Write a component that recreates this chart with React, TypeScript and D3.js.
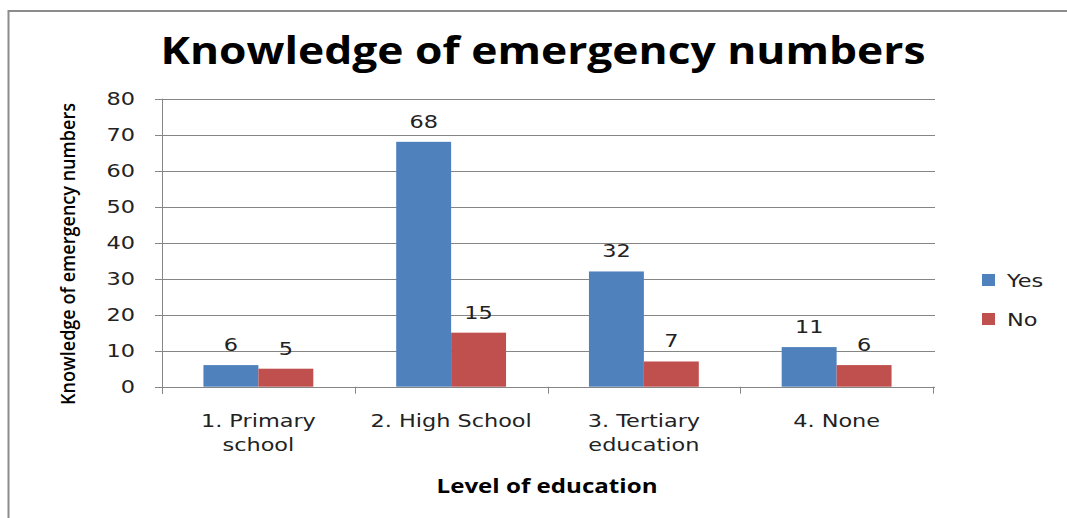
import { useEffect, useRef } from "react"
import * as d3 from "d3"

const categories = ["1. Primary school", "2. High School", "3. Tertiary education", "4. None"]
const categoryLines = [["1. Primary", "school"], ["2. High School"], ["3. Tertiary", "education"], ["4. None"]]
const seriesNames = ["Yes", "No"]
const yesValues = [6, 68, 32, 11]
const noValues = [5, 15, 7, 6]
const yTicks = [0, 10, 20, 30, 40, 50, 60, 70, 80]
const colors = ["#4F81BD", "#C0504D"]

export default function App() {
  const ref = useRef<SVGSVGElement | null>(null)

  useEffect(() => {
    if (!ref.current) return
    const svg = d3.select(ref.current)
    svg.selectAll("*").remove()

    const width = 1067
    const height = 518
    const left = 162
    const right = 933
    const top = 98.6
    const bottom = 386.7
    const font = "'DejaVu Sans', Verdana, sans-serif"
    const titleFont = "'Open Sans', Calibri, sans-serif"
    const stretch = 1.28

    // the source picture is stretched sideways, so plain labels are too
    const label = (parent: any, x: number, yPos: number, txt: string | number, anchor = "middle") =>
      parent
        .append("text")
        .attr("transform", `translate(${x},${yPos}) scale(${stretch},1)`)
        .attr("text-anchor", anchor)
        .attr("font-family", font)
        .attr("font-size", 17.5)
        .attr("fill", "#222")
        .text(txt)

    // outer frame, running off the right and bottom edges
    svg
      .append("rect")
      .attr("x", 8.5)
      .attr("y", 11)
      .attr("width", width + 20)
      .attr("height", height + 20)
      .attr("fill", "white")
      .attr("stroke", "#8c8c8c")
      .attr("stroke-width", 2)

    const x0 = d3.scaleBand().domain(categories).range([left, right]).paddingInner(0.43).paddingOuter(0.215)
    const x1 = d3.scaleBand().domain(seriesNames).range([0, x0.bandwidth()])
    const y = d3.scaleLinear().domain([0, 80]).range([bottom, top])

    // gridlines
    svg
      .append("g")
      .selectAll("line")
      .data(yTicks)
      .enter()
      .append("line")
      .attr("x1", left - 7)
      .attr("x2", right + 2)
      .attr("y1", (d) => Math.round(y(d)) + 0.5)
      .attr("y2", (d) => Math.round(y(d)) + 0.5)
      .attr("stroke", "#868686")
      .attr("stroke-width", 1)

    // y tick labels
    yTicks.forEach((t) => label(svg, 135, y(t) + 6.5, t, "end"))

    // y axis line
    svg
      .append("line")
      .attr("x1", left + 0.5)
      .attr("x2", left + 0.5)
      .attr("y1", top)
      .attr("y2", bottom + 7)
      .attr("stroke", "#868686")

    // x ticks
    const boundaries = d3.range(categories.length + 1).map((i) => left + ((right - left) * i) / categories.length)
    svg
      .append("g")
      .selectAll("line")
      .data(boundaries)
      .enter()
      .append("line")
      .attr("x1", (d) => Math.round(d) + 0.5)
      .attr("x2", (d) => Math.round(d) + 0.5)
      .attr("y1", bottom)
      .attr("y2", bottom + 7)
      .attr("stroke", "#868686")

    const data = categories.map((c, i) => ({ cat: c, values: [yesValues[i], noValues[i]] }))

    const groups = svg
      .append("g")
      .selectAll("g")
      .data(data)
      .enter()
      .append("g")
      .attr("transform", (d) => `translate(${x0(d.cat)},0)`)

    groups
      .selectAll("rect")
      .data((d) => d.values.map((v, j) => ({ v, s: seriesNames[j], j })))
      .enter()
      .append("rect")
      .attr("x", (d) => x1(d.s)!)
      .attr("width", x1.bandwidth())
      .attr("y", (d) => y(d.v))
      .attr("height", (d) => bottom - y(d.v))
      .attr("fill", (d) => colors[d.j])

    // value labels
    data.forEach((d) => {
      d.values.forEach((v, j) => {
        label(svg, x0(d.cat)! + x1(seriesNames[j])! + x1.bandwidth() / 2, y(v) - 14, v)
      })
    })

    // category labels
    const catCenter = (i: number) => x0(categories[i])! + x0.bandwidth() / 2
    categoryLines.forEach((lines, i) => {
      lines.forEach((line, k) => label(svg, catCenter(i), 427 + k * 23.5, line))
    })

    // titles
    svg
      .append("text")
      .attr("x", 543)
      .attr("y", 64)
      .attr("text-anchor", "middle")
      .attr("font-family", titleFont)
      .attr("font-weight", 700)
      .attr("font-size", 37)
      .attr("textLength", 765)
      .attr("lengthAdjust", "spacingAndGlyphs")
      .attr("fill", "#000")
      .text("Knowledge of emergency numbers")

    svg
      .append("text")
      .attr("x", 547)
      .attr("y", 493)
      .attr("text-anchor", "middle")
      .attr("font-family", titleFont)
      .attr("font-weight", 700)
      .attr("font-size", 19)
      .attr("textLength", 221)
      .attr("lengthAdjust", "spacingAndGlyphs")
      .attr("fill", "#000")
      .text("Level of education")

    svg
      .append("text")
      .attr("transform", "translate(75,254) rotate(-90)")
      .attr("text-anchor", "middle")
      .attr("font-family", titleFont)
      .attr("font-weight", 600)
      .attr("font-size", 19)
      .attr("textLength", 302)
      .attr("lengthAdjust", "spacingAndGlyphs")
      .attr("fill", "#000")
      .text("Knowledge of emergency numbers")

    // legend
    seriesNames.forEach((name, i) => {
      const yPos = 274 + i * 39
      svg.append("rect").attr("x", 982).attr("y", yPos).attr("width", 13).attr("height", 12).attr("fill", colors[i])
      label(svg, 1007, yPos + 13, name, "start")
    })
  }, [])

  return (
    <div style={{ position: "absolute", left: 0, top: 0 }}>
      <svg ref={ref} width={1067} height={518} style={{ display: "block" }}></svg>
    </div>
  )
}
